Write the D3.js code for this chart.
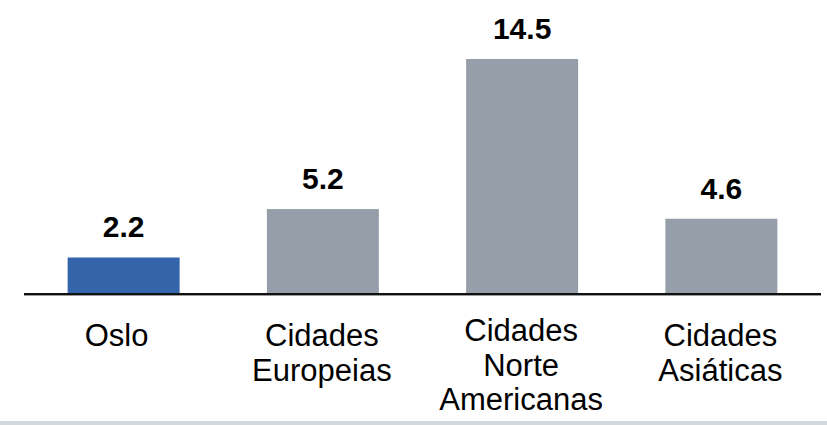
<!DOCTYPE html>
<html>
<head>
<meta charset="utf-8">
<script src="https://cdn.jsdelivr.net/npm/d3@7"></script>
<style>
  html, body { margin: 0; padding: 0; background: #ffffff; }
  svg { display: block; }
</style>
</head>
<body>
<svg id="chart" width="827" height="425"></svg>
<script>
const categories = ["Oslo", "Cidades Europeias", "Cidades Norte Americanas", "Cidades Asiáticas"];
const categoryLines = [["Oslo"], ["Cidades", "Europeias"], ["Cidades", "Norte", "Americanas"], ["Cidades", "Asiáticas"]];
const values = [2.2, 5.2, 14.5, 4.6];
const valueLabels = ["2.2", "5.2", "14.5", "4.6"];
const highlight = ["Oslo"];

const svg = d3.select("#chart");
const W = 827, H = 425;
const baseY = 293;
const FONT = "'Liberation Sans', Arial, Helvetica, sans-serif";

const x = d3.scaleBand().domain(categories).range([24, 821]).paddingInner(0.438).paddingOuter(0.219);
const y = d3.scaleLinear().domain([0, 14.5]).range([baseY, 59]);

// bottom band
svg.append("rect").attr("x", 0).attr("y", 421).attr("width", W).attr("height", 4).attr("fill", "#d3d7de");

// bars
svg.selectAll("rect.bar").data(categories).enter().append("rect")
  .attr("class", "bar")
  .attr("x", d => x(d))
  .attr("width", x.bandwidth())
  .attr("y", (d, i) => y(values[i]))
  .attr("height", (d, i) => y(0) - y(values[i]))
  .attr("fill", d => highlight.includes(d) ? "#3465aa" : "#959ea9");

// axis line
svg.append("line").attr("x1", 24).attr("x2", 821).attr("y1", baseY + 2.5).attr("y2", baseY + 2.5)
  .attr("stroke", "#9a9a9a").attr("stroke-width", 1);
svg.append("line").attr("x1", 24).attr("x2", 821).attr("y1", baseY + 1).attr("y2", baseY + 1)
  .attr("stroke", "#111111").attr("stroke-width", 2);

// value labels
svg.selectAll("text.val").data(categories).enter().append("text")
  .attr("class", "val")
  .attr("x", d => x(d) + x.bandwidth() / 2)
  .attr("y", (d, i) => y(values[i]) - 20)
  .attr("text-anchor", "middle")
  .attr("font-family", FONT)
  .attr("font-weight", "bold")
  .attr("font-size", 30)
  .attr("fill", "#000")
  .text((d, i) => valueLabels[i]);

// category labels
const cat = svg.selectAll("text.cat").data(categories).enter().append("text")
  .attr("class", "cat")
  .attr("text-anchor", "middle")
  .attr("font-family", FONT)
  .attr("font-size", 31)
  .attr("fill", "#000")
  .attr("y", (d, i) => categoryLines[i].length > 2 ? 341 : 346);
cat.each(function(d, i) {
  const t = d3.select(this);
  const shift = categoryLines[i].length === 1 ? -7 : -1;
  categoryLines[i].forEach((line, j) => {
    t.append("tspan")
      .attr("x", x(d) + x.bandwidth() / 2 + shift)
      .attr("dy", j === 0 ? 0 : 34.5)
      .text(line);
  });
});
</script>
</body>
</html>
